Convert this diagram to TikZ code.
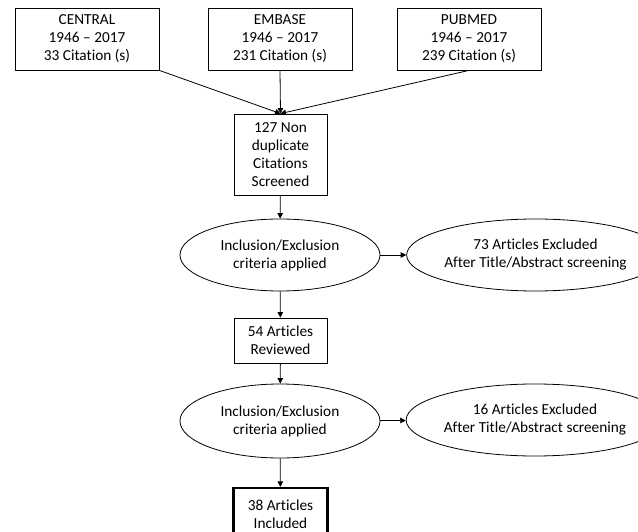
\documentclass[tikz,border=0pt]{standalone}
\usepackage{fontspec}
\setmainfont[Ligatures={NoCommon}]{Carlito}
\usetikzlibrary{shapes.geometric,arrows.meta}
\begin{document}
\begin{tikzpicture}[x=1pt,y=-1pt,
  every node/.style={font=\fontsize{15.3}{18}\selectfont, align=center, inner sep=0pt},
  srcbox/.style={draw, line width=0.8pt, minimum width=144pt, minimum height=62pt},
  midbox/.style={draw, line width=0.8pt, minimum width=93pt},
  ell/.style={draw, ellipse, line width=0.8pt, minimum width=200pt, minimum height=72pt},
  arr/.style={line width=0.8pt, -{Triangle[length=5.5pt,width=5.5pt]}}]
\useasboundingbox (0,0) rectangle (638,532);
\clip (0,0) rectangle (638,532);
\node[srcbox] (c) at (87,39) {CENTRAL\\1946 – 2017\\33 Citation (s)};
\node[srcbox] (e) at (280,39) {EMBASE\\1946 – 2017\\231 Citation (s)};
\node[srcbox] (p) at (469,39) {PUBMED\\1946 – 2017\\239 Citation (s)};
\node[midbox, minimum height=81pt] (s) at (280.5,154.5) {127 Non\\duplicate\\Citations\\Screened};
\node[ell] (i1) at (280,255) {Inclusion/Exclusion\\criteria applied};
\node[ell] (x1) at (535.5,255) {73 Articles Excluded\\After Title/Abstract screening};
\node[midbox, minimum height=45pt] (r) at (280.5,340.5) {54 Articles\\Reviewed};
\node[ell, minimum height=74pt] (i2) at (280,421) {Inclusion/Exclusion\\criteria applied};
\node[ell] (x2) at (535,420) {16 Articles Excluded\\After Title/Abstract screening};
\node[draw, line width=2.2pt, minimum width=94pt, minimum height=52pt] (f) at (280.5,514) {38 Articles\\Included};
\draw[arr] (c.south east) -- (s.north);
\draw[arr] (e.south) -- (s.north);
\draw[arr] (p.south) -- (s.north);
\draw[arr] (s) -- (i1);
\draw[arr] (i1) -- (x1);
\draw[arr] (i1) -- (r);
\draw[arr] (r) -- (i2);
\draw[arr] (i2) -- (x2);
\draw[arr] (i2) -- (f);
\end{tikzpicture}
\end{document}
